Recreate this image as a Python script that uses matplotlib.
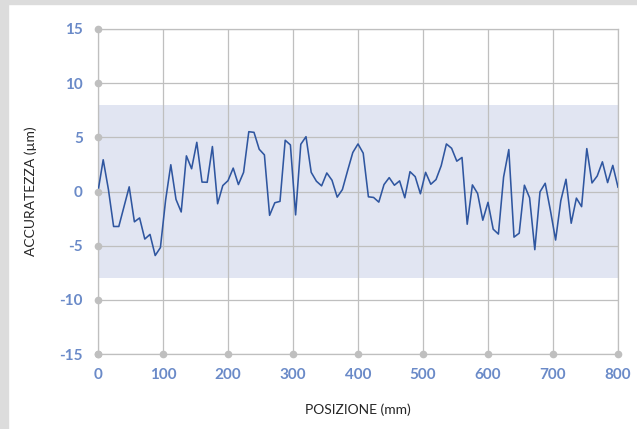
import numpy as np
import matplotlib
matplotlib.use("Agg")
import matplotlib.pyplot as plt

plt.rcParams["axes.unicode_minus"] = False

# Posizione (mm) - un punto ogni 8 mm
posizione = np.arange(0, 801, 8)

# Accuratezza (um)
accuratezza = [
    0.0, 2.93, 0.2, -3.23, -3.23, -1.4, 0.43, -2.8, -2.44, -4.39,
    -3.96, -5.91, -5.18, -0.8, 2.47, -0.73, -1.89, 3.29, 2.10, 4.54,
    0.87, 0.85, 4.15, -1.13, 0.55, 1.0, 2.16, 0.64, 1.77, 5.52,
    5.46, 3.9, 3.38, -2.2, -1.04, -0.91, 4.73, 4.3, -2.16, 4.36,
    5.06, 1.77, 0.95, 0.52, 1.71, 1.04, -0.52, 0.18, 1.92, 3.6,
    4.39, 3.54, -0.49, -0.55, -0.98, 0.64, 1.28, 0.58, 0.98, -0.58,
    1.83, 1.37, -0.21, 1.77, 0.67, 1.1, 2.38, 4.39, 3.99, 2.8,
    3.14, -3.02, 0.61, -0.18, -2.65, -1.0, -3.48, -3.93, 1.34, 3.87,
    -4.21, -3.85, 0.58, -0.58, -5.37, -0.03, 0.76, -1.74, -4.48, -0.85,
    1.13, -2.93, -0.61, -1.4, 3.96, 0.79, 1.43, 2.74, 0.82, 2.41,
    0.4,
]

# Banda di tolleranza
tolleranza = (-8, 8)

x_ticks = [0, 100, 200, 300, 400, 500, 600, 700, 800]
y_ticks = [-15, -10, -5, 0, 5, 10, 15]

grid_col = "#bfbfbf"
tick_col = "#6a8ac8"

fig = plt.figure(figsize=(6.37, 4.29), dpi=100)
# bordo grigio a sinistra e in alto
fig.patches.append(plt.Rectangle((0, 0), 8 / 637, 1, transform=fig.transFigure,
                                 color="#dcdcdc", zorder=0))
fig.patches.append(plt.Rectangle((0, 1 - 4 / 429), 1, 4 / 429, transform=fig.transFigure,
                                 color="#dcdcdc", zorder=0))

ax = fig.add_axes([98 / 637, 75 / 429, 520 / 637, 325 / 429])

ax.axhspan(tolleranza[0], tolleranza[1], color="#e1e5f2", zorder=0, lw=0)
ax.plot(posizione, accuratezza, color="#2f56a0", lw=1.15, zorder=3)

ax.set_xlim(0, 800)
ax.set_ylim(-15, 15)
ax.set_xticks(x_ticks)
ax.set_yticks(y_ticks)
ax.grid(True, color=grid_col, lw=0.9, zorder=1)
ax.set_axisbelow(False)
for sp in ax.spines.values():
    sp.set_visible(False)

# linee esterne della griglia
ax.axhline(15, color=grid_col, lw=0.9, clip_on=False, zorder=1)
ax.axhline(-15, color=grid_col, lw=0.9, clip_on=False, zorder=1)
ax.axvline(0, color=grid_col, lw=0.9, clip_on=False, zorder=1)
ax.axvline(800, color=grid_col, lw=0.9, clip_on=False, zorder=1)

# pallini sulle tacche
ax.plot([0] * len(y_ticks), y_ticks, "o", color=grid_col, ms=4.5, clip_on=False, zorder=4)
ax.plot(x_ticks, [-15] * len(x_ticks), "o", color=grid_col, ms=4.5, clip_on=False, zorder=4)

ax.tick_params(length=0, colors=tick_col, labelsize=11)
ax.tick_params(axis="y", pad=11)
ax.tick_params(axis="x", pad=10)
for lab in ax.get_xticklabels() + ax.get_yticklabels():
    lab.set_fontfamily("Lato")
    lab.set_fontweight("bold")

ax.set_xlabel("POSIZIONE (mm)", fontsize=10, family="Lato", color="#262626")
ax.set_ylabel("ACCURATEZZA (µm)", fontsize=10, family="Lato", color="#262626")
ax.xaxis.set_label_coords(0.5, -0.152)
ax.yaxis.set_label_coords(-0.117, 0.5)

fig.savefig("out.png", dpi=100)
